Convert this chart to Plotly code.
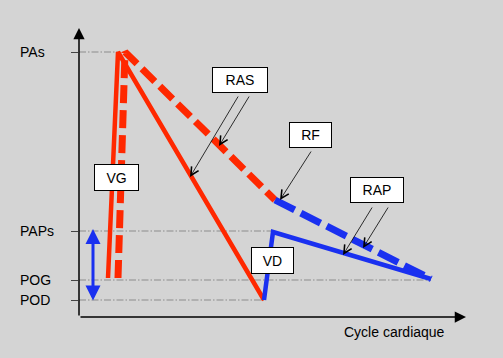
import plotly.graph_objects as go

# ---- data (cycle position, pressure level) ----
level_labels = ["PAs", "PAPs", "POG", "POD"]
level_values = [265, 86, 37, 17]
level_grid_end = [38, 194, 352, 185]   # where each reference line stops along the cycle

# left ventricle / systemic artery (solid red)
vg_ras_x = [29, 39, 185]
vg_ras_y = [39, 265, 17]
# left side, abnormal (dashed red)
vg_rf_x = [39, 46, 196]
vg_rf_y = [39, 265, 117]
# right side, dashed blue
rf_rap_x = [196, 352]
rf_rap_y = [117, 38]
# right ventricle / pulmonary (solid blue)
vd_rap_x = [185, 194, 352]
vd_rap_y = [17, 85, 38]

# label boxes: text, center x, center y, width px, height px
box_text = ["VG", "RAS", "RF", "VD", "RAP"]
box_x = [37.5, 161, 231.5, 193.5, 298]
box_y = [139.5, 237, 182, 56.5, 127]
box_w = [45, 56, 43, 43, 54]
box_h = [27, 26, 26, 27, 26]

# pointer arrows: tail (x,y) -> head (x,y)
ptr_tail_x = [160, 171, 233, 294, 310]
ptr_tail_y = [222, 222, 167, 111, 111]
ptr_head_x = [111, 140, 201, 264, 284]
ptr_head_y = [140, 171, 117, 62, 69]

X_MAX, Y_MAX = 387, 289
RED = "#ff2800"
BLUE = "#1a30f0"
BG = "#d4d4d4"
FONT = "Liberation Sans, Arial, sans-serif"

fig = go.Figure()

# dash-dot reference lines
for v, xe in zip(level_values, level_grid_end):
    fig.add_trace(go.Scatter(x=[0, xe], y=[v, v], mode="lines",
                             line=dict(color="#8c8c8c", width=1, dash="7px,2px,1.5px,2px"),
                             hoverinfo="skip", showlegend=False))

fig.add_trace(go.Scatter(x=vg_ras_x, y=vg_ras_y, mode="lines",
                         line=dict(color=RED, width=4.5), showlegend=False))
fig.add_trace(go.Scatter(x=vg_rf_x, y=vg_rf_y, mode="lines",
                         line=dict(color=RED, width=7, dash="18px,7px"), showlegend=False))
fig.add_trace(go.Scatter(x=vd_rap_x, y=vd_rap_y, mode="lines",
                         line=dict(color=BLUE, width=4.5), showlegend=False))
fig.add_trace(go.Scatter(x=rf_rap_x, y=rf_rap_y, mode="lines",
                         line=dict(color=BLUE, width=7, dash="22px,7px"), showlegend=False))

ann = []
# axes with arrows
ann.append(dict(x=X_MAX, y=0, ax=0, ay=0, xref="x", yref="y", axref="x", ayref="y",
                text="", showarrow=True, arrowhead=2, arrowwidth=1.5, arrowsize=1.5,
                arrowcolor="black", standoff=0))
ann.append(dict(x=0, y=Y_MAX, ax=0, ay=0, xref="x", yref="y", axref="x", ayref="y",
                text="", showarrow=True, arrowhead=2, arrowwidth=1.5, arrowsize=1.5,
                arrowcolor="black", standoff=0))
# level labels (left aligned, left of the axis)
for lab, v in zip(level_labels, level_values):
    ann.append(dict(x=-61 / X_MAX, y=v, xref="paper", yref="y", text=lab, showarrow=False,
                    xanchor="left", yanchor="middle",
                    font=dict(family=FONT, size=14, color="black")))
# axis title
ann.append(dict(x=315 / X_MAX, y=-15 / Y_MAX, xref="paper", yref="paper",
                text="Cycle cardiaque", showarrow=False,
                xanchor="center", yanchor="middle",
                font=dict(family=FONT, size=14, color="black")))
# blue double arrow
ann.append(dict(x=14, y=level_values[1] + 2, ax=14, ay=level_values[3] - 2,
                xref="x", yref="y", axref="x", ayref="y", text="", showarrow=True,
                arrowside="end+start", arrowhead=2, startarrowhead=2,
                arrowwidth=3, arrowsize=1, startarrowsize=1, arrowcolor=BLUE, standoff=0,
                startstandoff=0))
# pointer arrows
for tx, ty, hx, hy in zip(ptr_tail_x, ptr_tail_y, ptr_head_x, ptr_head_y):
    ann.append(dict(x=hx, y=hy, ax=tx, ay=ty, xref="x", yref="y", axref="x", ayref="y",
                    text="", showarrow=True, arrowhead=5, arrowwidth=0.8, arrowsize=2,
                    arrowcolor="black", standoff=0))
# boxes
for t, bx, by, w, h in zip(box_text, box_x, box_y, box_w, box_h):
    ann.append(dict(x=bx, y=by, xref="x", yref="y", text=t, showarrow=False,
                    xanchor="center", yanchor="middle", width=w - 2, height=h - 2,
                    bgcolor="white", bordercolor="black", borderwidth=1, borderpad=0,
                    align="center", valign="middle",
                    font=dict(family=FONT, size=14, color="black")))

fig.update_layout(
    width=503, height=358,
    margin=dict(l=79, r=37, t=28, b=41),
    paper_bgcolor=BG, plot_bgcolor=BG,
    annotations=ann,
    xaxis=dict(range=[0, X_MAX], showgrid=False, zeroline=False, showticklabels=False,
               showline=False, ticks=""),
    yaxis=dict(range=[0, Y_MAX], showgrid=False, zeroline=False, showticklabels=False,
               showline=False, ticks="outside", ticklen=7, tickwidth=1, tickcolor="#444444",
               tickvals=level_values),
    font=dict(family=FONT),
)

fig.write_html(
    "out.html",
    config={"displayModeBar": False},
    post_script=("document.body.style.margin='0';"
                 "document.body.style.overflow='hidden';"
                 "document.body.style.background='%s';" % BG),
)
